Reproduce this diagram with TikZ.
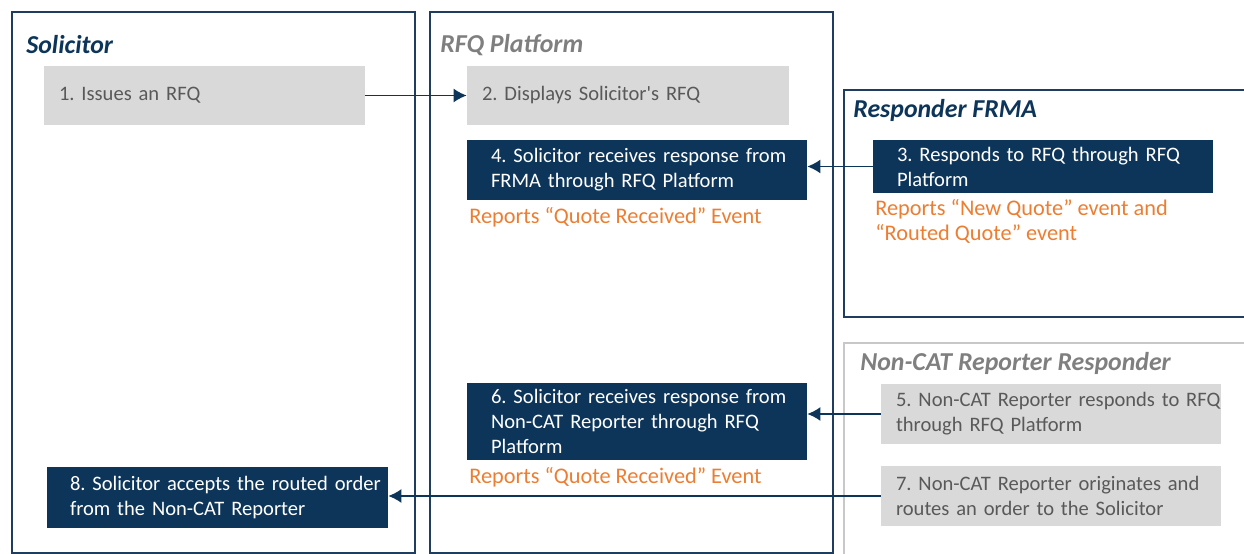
\documentclass[tikz,border=0pt]{standalone}
\usepackage{fontspec}
\setmainfont{Carlito}
\usetikzlibrary{arrows.meta,positioning}
\definecolor{navy}{HTML}{0D3559}
\definecolor{frame}{HTML}{1F3D5E}
\definecolor{lightfill}{HTML}{D9D9D9}
\definecolor{darktext}{HTML}{595959}
\definecolor{titlegrey}{HTML}{7F7F7F}
\definecolor{softframe}{HTML}{C8C8C8}
\definecolor{reportorange}{HTML}{ED7D31}
\frenchspacing

\begin{document}
\begin{tikzpicture}[x=0.02cm,y=-0.02cm,>={Latex[length=2.6mm,width=2.8mm]}]
  \tikzstyle{panel}=[draw=frame,line width=1.1pt,inner sep=0pt]
  \tikzstyle{paneltitle}=[font=\fontsize{14.7}{18}\selectfont\bfseries\itshape,anchor=west,inner sep=0pt]
  \tikzstyle{stepbox}=[inner sep=0pt,font=\fontsize{11.7}{14.2}\selectfont,align=left,text width=6.8cm]
  \tikzstyle{inset}=[execute at begin node={\leftskip=#1}]
  \tikzstyle{navybox}=[stepbox,fill=navy,text=white]
  \tikzstyle{greybox}=[stepbox,fill=lightfill,text=darktext]
  \tikzstyle{note}=[text=reportorange,anchor=west,inner sep=0pt,font=\fontsize{12.7}{14.2}\selectfont,align=left]
  \tikzstyle{flow}=[->,draw=navy,line width=0.9pt]
  \useasboundingbox (0,0) rectangle (1244,554);

  % swim lanes
  \node[panel,minimum width=8.06cm,minimum height=10.82cm] (sol) at (213.5,282.5) {};
  \node[panel,minimum width=8.06cm,minimum height=10.82cm] (rfq) at (631.5,282.5) {};
  \node[panel,minimum width=8.12cm,minimum height=4.54cm] (frma) at (1047,203.5) {};
  \node[panel,draw=softframe,minimum width=8.12cm,minimum height=4.34cm] (noncat) at (1047,451.5) {};

  \node[paneltitle,text=navy] (tsol) at (26,45) {Solicitor};
  \node[paneltitle,text=titlegrey] (trfq) at (440,45) {RFQ Platform};
  \node[paneltitle,text=navy] (tfrma) at (853,110) {Responder FRMA};
  \node[paneltitle,text=titlegrey] (tnoncat) at (860,363) {Non-CAT Reporter Responder};

  % steps
  \node[greybox,inset=0.3cm,text width=6.42cm,minimum height=1.18cm] (b1) at (204.5,95.5) {1. Issues an RFQ};
  \node[greybox,inset=0.3cm,text width=6.44cm,minimum height=1.18cm] (b2) at (628,95.5) {2. Displays Solicitor\textquotesingle s RFQ};
  \node[navybox,inset=0.48cm,minimum height=1.2cm] (b4) at (637,170) {4. Solicitor receives response from\\FRMA through RFQ Platform};
  \node[navybox,inset=0.48cm,minimum height=1.06cm] (b3) at (1043,166.5) {3. Responds to RFQ through RFQ\\Platform};
  \node[navybox,inset=0.48cm,minimum height=1.54cm] (b6) at (637,421.5) {6. Solicitor receives response from\\Non-CAT Reporter through RFQ\\Platform};
  \node[greybox,inset=0.3cm,minimum height=1.2cm] (b5) at (1051,414) {5. Non-CAT Reporter responds to RFQ\\through RFQ Platform};
  \node[greybox,inset=0.3cm,minimum height=1.2cm] (b7) at (1051,496) {7. Non-CAT Reporter originates and\\routes an order to the Solicitor};
  \node[navybox,inset=0.46cm,text width=6.82cm,minimum height=1.22cm] (b8) at (217.5,497.5) {8. Solicitor accepts the routed order\\from the Non-CAT Reporter};

  % reported events
  \node[note] (n4) at (469,217) {Reports “Quote Received” Event};
  \node[note] (n3) at (875,221.5) {Reports “New Quote” event and\\“Routed Quote” event};
  \node[note] (n6) at (469,477) {Reports “Quote Received” Event};

  \draw[flow] (b1) -- (b2);
  \draw[flow] (b3.west) -- (b3.west -| b4.east);
  \draw[flow] (b5.west) -- (b5.west -| b6.east);
  \draw[flow] (b7.west) -- (b7.west -| b8.east);
\end{tikzpicture}
\end{document}
